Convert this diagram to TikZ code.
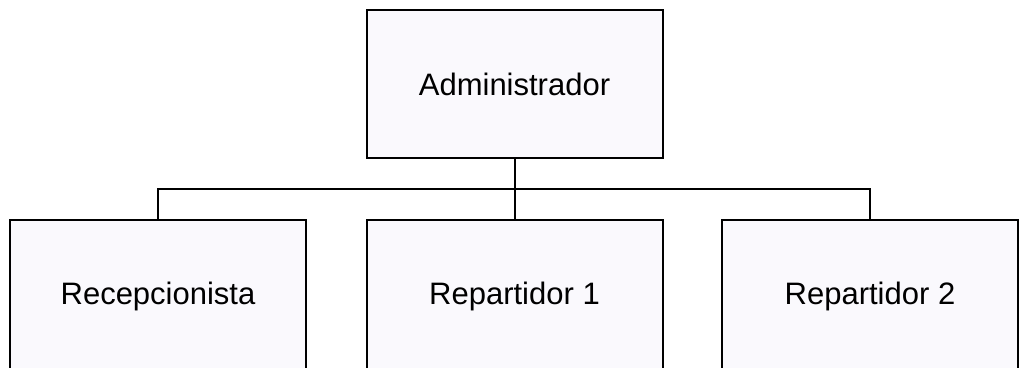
\documentclass[tikz,border=0pt]{standalone}
\usepackage{fontspec}
\setmainfont{Liberation Sans}
\definecolor{boxfill}{HTML}{FAF9FD}
\begin{document}
\begin{tikzpicture}[x=1pt,y=-1pt,
  orgbox/.style={draw=black, fill=boxfill, line width=2pt, minimum width=296pt, minimum height=148pt, inner sep=0pt, font=\fontsize{31}{36}\selectfont},
  lowbox/.style={orgbox, minimum height=152pt},
  link/.style={draw=black, line width=2pt}]
\useasboundingbox (0,0) rectangle (1019,367);
\clip (0,0) rectangle (1019,367);
\node[orgbox] (admin) at (514.5,84) {Administrador};
\node[lowbox] (rec) at (158,296) {Recepcionista};
\node[lowbox] (rep1) at (514.5,296) {Repartidor 1};
\node[lowbox] (rep2) at (870,296) {Repartidor 2};
\coordinate (bar) at (0,189);
\coordinate (hub) at (admin.south |- bar);
\draw[link] (admin.south) -- (hub);
\draw[link] (hub) -| (rec.north);
\draw[link] (hub) -| (rep2.north);
\draw[link] (hub) -- (rep1.north);
\end{tikzpicture}
\end{document}
